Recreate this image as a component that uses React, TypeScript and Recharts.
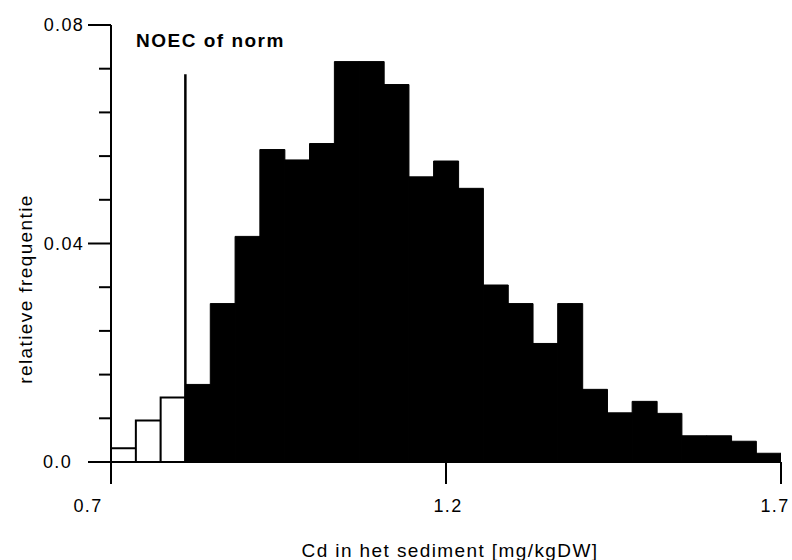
import { Bar, Cell, ComposedChart, ReferenceLine, XAxis, YAxis } from "recharts"

// midpoint of each histogram bin (bins of 1/27 between 0.7 and 1.7)
const binMids = [
  0.7185, 0.7556, 0.7926, 0.8296, 0.8667, 0.9037, 0.9407, 0.9778, 1.0148, 1.0519, 1.0889, 1.1259,
  1.163, 1.2, 1.237, 1.2741, 1.3111, 1.3481, 1.3852, 1.4222, 1.4593, 1.4963, 1.5333, 1.5704,
  1.6074, 1.6444, 1.6815,
]

// relative frequency per bin
const freq = [
  0.0025, 0.0076, 0.0118, 0.0142, 0.029, 0.0413, 0.0572, 0.0553, 0.0583, 0.0733, 0.0733, 0.0691,
  0.0522, 0.0551, 0.0501, 0.0324, 0.029, 0.0217, 0.029, 0.0133, 0.009, 0.0111, 0.0089, 0.0048,
  0.0048, 0.0038, 0.0016,
]

const xTicks = [0.7, 1.2, 1.7]
const yTicks = [0, 0.008, 0.016, 0.024, 0.032, 0.04, 0.048, 0.056, 0.064, 0.072, 0.08]
const yLabels: Record<string, string> = { "0": "0.0", "0.04": "0.04", "0.08": "0.08" }

const noec = 0.811
const noecTop = 0.071

const table = binMids.map((mid, i) => ({ mid, freq: freq[i] }))

const font = "'Liberation Sans', Arial, Helvetica, sans-serif"

const YTick = (props: any) => {
  const { x, y, payload } = props
  const label = yLabels[String(payload.value)]
  const major = label !== undefined
  const len = major ? 23 : 12
  // the 0.0 label sits further left in the original
  const dx = payload.value === 0 ? -39 : -27
  return (
    <g>
      <line x1={x - len} x2={x} y1={y} y2={y} stroke="#000" strokeWidth={2} />
      {major && (
        <text x={x + dx} y={y + 6} textAnchor="end" fontSize={18} letterSpacing={1.3} fontFamily={font} fill="#000">
          {label}
        </text>
      )}
    </g>
  )
}

const xShift: Record<string, number> = { "0.7": -23, "1.2": 2, "1.7": -6 }

const XTick = (props: any) => {
  const { x, y, payload } = props
  return (
    <g>
      <line x1={x} x2={x} y1={y} y2={y + 22} stroke="#000" strokeWidth={2} />
      <text x={x + (xShift[String(payload.value)] ?? 0)} y={y + 50} textAnchor="middle" fontSize={18} letterSpacing={1.3} fontFamily={font} fill="#000">
        {String(payload.value)}
      </text>
    </g>
  )
}

export default function App() {
  return (
    <div style={{ position: "absolute", left: 0, top: 0, background: "#fff" }}>
      <ComposedChart
        width={792}
        height={560}
        data={table}
        margin={{ top: 25, right: 11, left: 51, bottom: 58 }}
        barCategoryGap={0}
        barGap={0}
      >
        <XAxis
          dataKey="mid"
          type="number"
          domain={[0.7, 1.7]}
          ticks={xTicks}
          interval={0}
          allowDataOverflow
          height={40}
          tickSize={0}
          tickMargin={0}
          tickLine={false}
          axisLine={{ stroke: "#000", strokeWidth: 2 }}
          tick={<XTick />}
        />
        <YAxis
          type="number"
          domain={[0, 0.08]}
          ticks={yTicks}
          interval={0}
          width={60}
          tickSize={0}
          tickMargin={0}
          tickLine={false}
          axisLine={{ stroke: "#000", strokeWidth: 2 }}
          tick={<YTick />}
        />
        <Bar dataKey="freq" isAnimationActive={false}>
          {table.map((d) => (
            <Cell
              key={d.mid}
              fill={d.mid < noec ? "#fff" : "#000"}
              stroke="#000"
              strokeWidth={d.mid < noec ? 2 : 1}
            />
          ))}
        </Bar>
        <ReferenceLine
          segment={[
            { x: noec, y: 0 },
            { x: noec, y: noecTop },
          ]}
          stroke="#000"
          strokeWidth={2.5}
        />
        <text x={136} y={47} fontSize={19} fontWeight="bold" letterSpacing={1.5} fontFamily={font} fill="#000">
          NOEC of norm
        </text>
        <text
          x={25}
          y={289}
          transform="rotate(-90 25 289)"
          textAnchor="middle"
          dominantBaseline="central"
          fontSize={19}
          letterSpacing={1.4}
          fontFamily={font}
          fill="#000"
        >
          relatieve frequentie
        </text>
        <text x={450} y={557} textAnchor="middle" fontSize={19} letterSpacing={1.4} fontFamily={font} fill="#000">
          Cd in het sediment [mg/kgDW]
        </text>
      </ComposedChart>
    </div>
  )
}
